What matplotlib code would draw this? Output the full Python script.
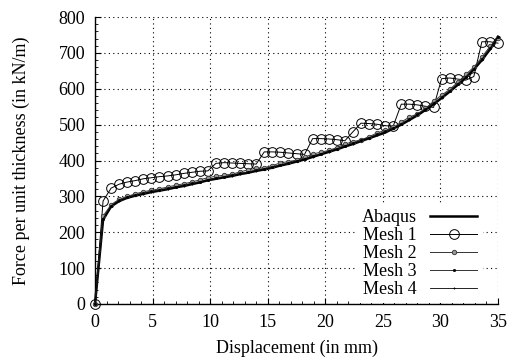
import matplotlib
matplotlib.use("Agg")
import matplotlib.pyplot as plt
from matplotlib.ticker import MultipleLocator, AutoMinorLocator

plt.rcParams['font.family'] = ['Liberation Serif', 'DejaVu Serif']

disp = [0.0, 0.7, 1.4, 2.1, 2.8, 3.5, 4.2, 4.9, 5.6, 6.3, 7.0, 7.7, 8.4, 9.1, 9.8,
        10.5, 11.2, 11.9, 12.6, 13.3, 14.0, 14.7, 15.4, 16.1, 16.8, 17.5, 18.2,
        18.9, 19.6, 20.3, 21.0, 21.7, 22.4, 23.1, 23.8, 24.5, 25.2, 25.9, 26.6,
        27.3, 28.0, 28.7, 29.4, 30.1, 30.8, 31.5, 32.2, 32.9, 33.6, 34.3, 35.0]

abaqus = [0, 235, 272, 287, 296, 302, 307, 312, 316, 320, 325, 329, 334, 339, 345,
          349, 353, 357, 362, 366, 371, 375, 380, 386, 391, 397, 403, 410, 417, 424,
          431, 439, 446, 454, 462, 470, 478, 489, 500, 513, 526, 541, 557, 574, 592,
          611, 631, 654, 680, 710, 745]

mesh1 = [0, 287, 323, 334, 340, 344, 349, 352, 355, 357, 360, 364, 367, 370, 371,
         392, 394, 393, 392, 391, 390, 424, 424, 423, 421, 419, 417, 461, 461, 460,
         458, 455, 480, 504, 503, 501, 497, 496, 557, 557, 555, 551, 548, 628, 630,
         627, 624, 634, 731, 731, 727]

mesh2 = [0, 245, 277, 292, 300, 307, 313, 317, 321, 326, 331, 335, 340, 346, 352,
         356, 359, 362, 368, 374, 378, 380, 386, 393, 397, 401, 409, 418, 423, 428,
         436, 446, 452, 458, 466, 477, 484, 492, 507, 521, 530, 545, 565, 582, 598,
         618, 640, 660, 688, 718, 742]

mesh3 = [0, 238, 274, 289, 298, 304, 309, 314, 318, 322, 327, 331, 336, 341, 347,
         351, 355, 359, 364, 368, 373, 377, 382, 388, 393, 399, 405, 413, 419, 426,
         433, 441, 449, 456, 464, 473, 481, 490, 503, 516, 529, 543, 560, 577, 595,
         614, 634, 656, 683, 713, 744]

mesh4 = [0, 236, 273, 288, 297, 303, 308, 313, 317, 321, 326, 330, 335, 340, 346,
         350, 354, 358, 363, 367, 372, 376, 381, 387, 392, 398, 404, 411, 418, 425,
         432, 440, 447, 455, 463, 471, 479, 490, 501, 514, 527, 542, 558, 575, 593,
         612, 632, 655, 681, 711, 745]

fig = plt.figure(figsize=(5.09, 3.62), dpi=100)
ax = fig.add_axes([95/509, 1-304/362, 403/509, 287/362])

ax.plot(disp, abaqus, color='black', lw=1.8, label='Abaqus', zorder=3, clip_on=False)
ax.plot(disp, mesh1, color='black', lw=0.7, marker='o', ms=7.0, mfc='none',
        mec='black', mew=0.7, label='Mesh 1', zorder=4, clip_on=False)
ax.plot(disp, mesh2, color='#333333', lw=0.7, marker='o', ms=3.2, mfc='#999999',
        mec='#333333', mew=0.6, label='Mesh 2', zorder=5, clip_on=False)
ax.plot(disp, mesh3, color='#333333', lw=0.7, marker='o', ms=1.8, mfc='black',
        mec='black', mew=0.4, label='Mesh 3', zorder=6, clip_on=False)
ax.plot(disp, mesh4, color='black', lw=0.6, marker='o', ms=1.0, mfc='black',
        mec='black', mew=0.3, label='Mesh 4', zorder=7, clip_on=False)

ax.set_xlim(0, 35)
ax.set_ylim(0, 800)
ax.xaxis.set_major_locator(MultipleLocator(5))
ax.yaxis.set_major_locator(MultipleLocator(100))
ax.xaxis.set_minor_locator(AutoMinorLocator(5))
ax.yaxis.set_minor_locator(AutoMinorLocator(5))
ax.tick_params(which='major', direction='in', length=4, width=0.8, labelsize=13, pad=7)
ax.tick_params(which='minor', direction='in', length=2, width=0.6)
ax.grid(True, which='major', color='black', linestyle=(0, (1, 3)), lw=0.8)
for s in ['top', 'right']:
    ax.spines[s].set_visible(False)
for s in ['left', 'bottom']:
    ax.spines[s].set_linewidth(1.0)

ax.set_xlabel('Displacement (in mm)', fontsize=13)
ax.set_ylabel('Force per unit thickness (in kN/m)', fontsize=13)
ax.xaxis.set_label_coords(0.5, -0.125)
ax.yaxis.set_label_coords(-0.162, 0.5)

leg = ax.legend(loc='lower right', bbox_to_anchor=(0.962, 0.002), fontsize=13,
                markerfirst=False, frameon=True, fancybox=False, framealpha=1,
                facecolor='white', edgecolor='none', handlelength=2.6,
                handletextpad=0.75, labelspacing=0.05, borderpad=0.3,
                borderaxespad=0)
leg.set_zorder(10)

fig.savefig('out.png', dpi=100)
